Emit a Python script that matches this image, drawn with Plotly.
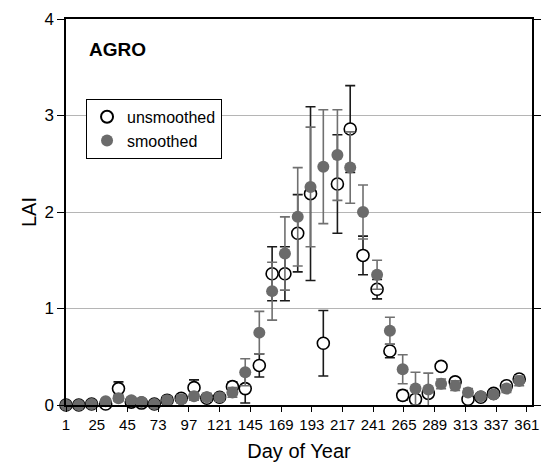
import plotly.graph_objects as go

days = [1, 11, 21, 32, 42, 52, 60, 70, 80, 91, 101, 111, 121, 131, 141, 152, 162, 172,
        182, 192, 202, 213, 223, 233, 244, 254, 264, 274, 284, 294, 305, 315, 325, 335, 345, 355]

unsmoothed = [0.00, 0.00, 0.01, 0.01, 0.17, 0.03, 0.02, 0.01, 0.05, 0.07, 0.18, 0.07,
              0.08, 0.19, 0.17, 0.41, 1.36, 1.36, 1.78, 2.19, 0.64, 2.29, 2.86, 1.55,
              1.20, 0.56, 0.10, 0.06, 0.12, 0.40, 0.24, 0.06, 0.08, 0.12, 0.20, 0.27]
unsmoothed_err = [0.00, 0.00, 0.01, 0.02, 0.07, 0.03, 0.02, 0.02, 0.03, 0.03, 0.08, 0.03,
                  0.03, 0.05, 0.15, 0.12, 0.28, 0.28, 0.40, 0.90, 0.34, 0.51, 0.45, 0.20,
                  0.10, 0.07, 0.05, 0.04, 0.04, 0.04, 0.04, 0.03, 0.03, 0.03, 0.04, 0.04]

smoothed = [0.00, 0.00, 0.01, 0.04, 0.07, 0.05, 0.03, 0.01, 0.05, 0.06, 0.09, 0.08,
            0.08, 0.13, 0.34, 0.75, 1.18, 1.57, 1.95, 2.26, 2.47, 2.59, 2.46, 2.00,
            1.35, 0.77, 0.37, 0.17, 0.16, 0.22, 0.20, 0.13, 0.09, 0.11, 0.17, 0.25]
smoothed_err = [0.00, 0.00, 0.01, 0.02, 0.03, 0.03, 0.02, 0.02, 0.04, 0.04, 0.04, 0.04,
                0.04, 0.05, 0.14, 0.22, 0.30, 0.38, 0.51, 0.62, 0.59, 0.47, 0.37, 0.28,
                0.15, 0.14, 0.15, 0.17, 0.17, 0.05, 0.05, 0.04, 0.03, 0.03, 0.04, 0.05]

tick_vals = [1, 25, 49, 73, 97, 121, 145, 169, 193, 217, 241, 265, 289, 313, 337, 361]
tick_text = ["1", "25", "45", "73", "97", "121", "145", "169", "193", "217", "241",
             "265", "289", "313", "337", "361"]

FONT = "Liberation Sans, Arial, Helvetica, sans-serif"

fig = go.Figure()
fig.add_trace(go.Scatter(
    x=days, y=unsmoothed, mode="markers", name="unsmoothed",
    marker=dict(symbol="circle", size=12, color="white",
                line=dict(color="black", width=1.6)),
    error_y=dict(type="data", array=unsmoothed_err, visible=True,
                 color="#1a1a1a", thickness=1.6, width=5),
    cliponaxis=False,
))
fig.add_trace(go.Scatter(
    x=days, y=smoothed, mode="markers", name="smoothed",
    marker=dict(symbol="circle", size=12, color="#6b6b6b",
                line=dict(color="#6b6b6b", width=0)),
    error_y=dict(type="data", array=smoothed_err, visible=True,
                 color="#707070", thickness=1.6, width=5),
    cliponaxis=False,
))

fig.add_annotation(text="<b>AGRO</b>", xref="paper", yref="paper",
                   x=0.045, y=0.92, xanchor="left", yanchor="middle",
                   showarrow=False, font=dict(family=FONT, size=19, color="black"))

fig.update_layout(
    width=546, height=463,
    margin=dict(l=66, r=14, t=19, b=58),
    paper_bgcolor="white", plot_bgcolor="white",
    font=dict(family=FONT, color="black"),
    showlegend=True,
    legend=dict(x=0.043, y=0.793, xanchor="left", yanchor="top",
                bordercolor="black", borderwidth=1, bgcolor="white",
                font=dict(family=FONT, size=16, color="black"),
                itemsizing="constant", tracegroupgap=2),
    xaxis=dict(range=[1, 365], tickmode="array", tickvals=tick_vals, ticktext=tick_text,
               showgrid=False, zeroline=False, showline=True, linecolor="black",
               linewidth=1.5, mirror=True, ticks="outside", ticklen=5, tickcolor="black",
               automargin=False,
               tickfont=dict(family=FONT, size=15, color="black"),
               title=dict(text="Day of Year", font=dict(family=FONT, size=20, color="black"),
                          standoff=12)),
    yaxis=dict(range=[0, 4], tickmode="array", tickvals=[0, 1, 2, 3, 4],
               showgrid=True, gridcolor="#b5b5b5", gridwidth=1, zeroline=False,
               showline=True, linecolor="black", linewidth=1.5, mirror="ticks",
               ticks="outside", ticklen=7, tickcolor="black", automargin=False,
               tickfont=dict(family=FONT, size=17, color="black"),
               title=dict(text="LAI", font=dict(family=FONT, size=20, color="black"),
                          standoff=2)),
)

fig.write_html("out.html")
